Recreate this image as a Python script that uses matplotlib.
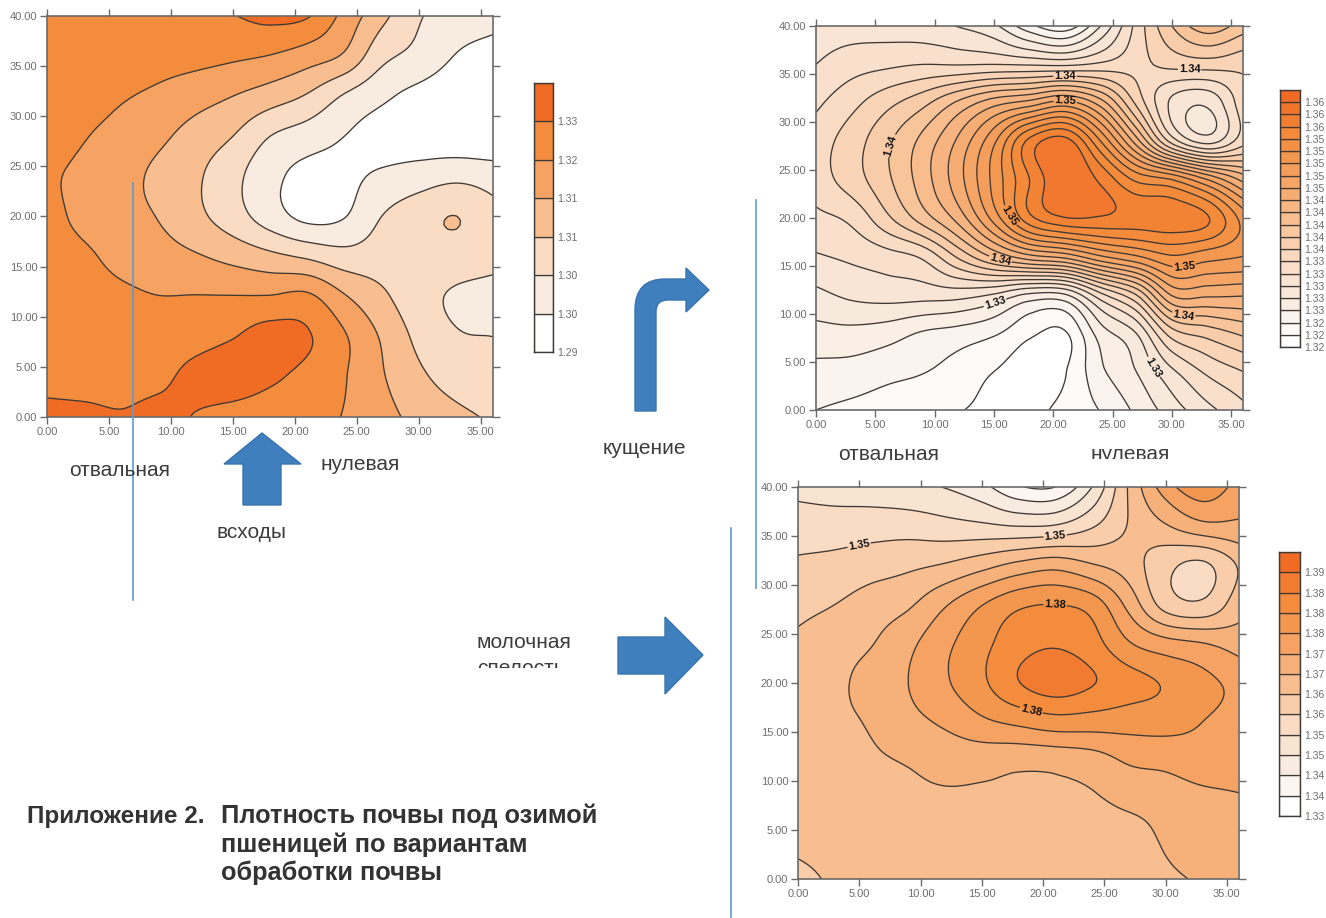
import numpy as np
import matplotlib
matplotlib.use('Agg')
import matplotlib.pyplot as plt
from matplotlib.colors import LinearSegmentedColormap
from matplotlib.patches import Polygon, PathPatch, Rectangle
from matplotlib.path import Path

plt.rcParams['font.family'] = ['Liberation Sans', 'DejaVu Sans']

W, H = 1326, 918

X_NODES = [0, 3, 6, 9, 12, 15, 18, 21, 24, 27, 30, 33, 36]
Y_NODES = [0, 4, 8, 12, 16, 20, 24, 28, 32, 36, 40]
X_TICKS = [0, 5, 10, 15, 20, 25, 30, 35]
Y_TICKS = [0, 5, 10, 15, 20, 25, 30, 35, 40]

# soil density, rows go from y=0 up to y=40
DENSITY_SPROUTS = [
    [1.326, 1.3258, 1.3253, 1.326, 1.3248, 1.3233, 1.322, 1.321, 1.3198, 1.3168, 1.3135, 1.3113, 1.3093],
    [1.324, 1.3238, 1.3238, 1.3243, 1.326, 1.327, 1.3258, 1.3235, 1.3203, 1.3155, 1.311, 1.308, 1.3065],
    [1.3228, 1.3225, 1.3225, 1.3228, 1.3235, 1.3248, 1.327, 1.3255, 1.3205, 1.3145, 1.3088, 1.3055, 1.305],
    [1.3225, 1.322, 1.321, 1.3201, 1.3202, 1.3202, 1.3203, 1.321, 1.3155, 1.311, 1.307, 1.3043, 1.3033],
    [1.322, 1.3208, 1.3185, 1.317, 1.3155, 1.3135, 1.3113, 1.3093, 1.307, 1.3075, 1.308, 1.3078, 1.3065],
    [1.3215, 1.3188, 1.3165, 1.3148, 1.3113, 1.3073, 1.3025, 1.2988, 1.2998, 1.305, 1.308, 1.31005, 1.3065],
    [1.3208, 1.3188, 1.3165, 1.314, 1.3108, 1.3065, 1.3015, 1.2985, 1.299, 1.3008, 1.3025, 1.3038, 1.3028],
    [1.3225, 1.3203, 1.318, 1.316, 1.313, 1.31, 1.305, 1.3025, 1.30, 1.298, 1.297, 1.2965, 1.296],
    [1.323, 1.3225, 1.3205, 1.319, 1.317, 1.315, 1.3125, 1.3095, 1.3045, 1.301, 1.2985, 1.297, 1.2965],
    [1.323, 1.323, 1.3225, 1.3218, 1.3215, 1.3208, 1.3198, 1.3175, 1.3143, 1.3065, 1.3035, 1.2998, 1.298],
    [1.3225, 1.3225, 1.3225, 1.3225, 1.3235, 1.3248, 1.3265, 1.3255, 1.3185, 1.3115, 1.3055, 1.303, 1.302],
]
DENSITY_TILLERING = [
    [1.324, 1.3235, 1.323, 1.3225, 1.3221, 1.3215, 1.3216, 1.3225, 1.3241, 1.3264, 1.329, 1.3314, 1.3334],
    [1.3254, 1.3252, 1.3246, 1.3241, 1.3232, 1.322, 1.3212, 1.3219, 1.3256, 1.328, 1.3316, 1.3344, 1.336],
    [1.3273, 1.3274, 1.3269, 1.3258, 1.3252, 1.3243, 1.3224, 1.3218, 1.327, 1.33, 1.337, 1.3388, 1.3404],
    [1.3295, 1.3304, 1.3308, 1.3308, 1.3308, 1.3298, 1.3276, 1.3278, 1.3334, 1.338, 1.3462, 1.3464, 1.3462],
    [1.3318, 1.3324, 1.3332, 1.3344, 1.3384, 1.3424, 1.3454, 1.3468, 1.3498, 1.3518, 1.3538, 1.3528, 1.352],
    [1.3335, 1.3345, 1.3376, 1.341, 1.3448, 1.3508, 1.3574, 1.3599, 1.3598, 1.3592, 1.3592, 1.3582, 1.3532],
    [1.335, 1.337, 1.3396, 1.343, 1.3472, 1.3526, 1.358, 1.3618, 1.3596, 1.3556, 1.354, 1.35, 1.3454],
    [1.335, 1.337, 1.3396, 1.3426, 1.3464, 1.3516, 1.3586, 1.3608, 1.354, 1.345, 1.3352, 1.3312, 1.3352],
    [1.3336, 1.3354, 1.3374, 1.3394, 1.3424, 1.3452, 1.3468, 1.3488, 1.345, 1.3376, 1.3316, 1.3304, 1.3352],
    [1.332, 1.3331, 1.3336, 1.334, 1.3339, 1.334, 1.3338, 1.3336, 1.3344, 1.3354, 1.3366, 1.337, 1.3366],
    [1.331, 1.331, 1.3309, 1.3306, 1.3299, 1.3284, 1.3246, 1.3226, 1.328, 1.3346, 1.34, 1.3432, 1.341],
]
DENSITY_MILK = [
    [1.359, 1.3605, 1.3615, 1.362, 1.362, 1.3623, 1.3625, 1.3628, 1.363, 1.3635, 1.3643, 1.3655, 1.367],
    [1.3608, 1.3613, 1.362, 1.3625, 1.3625, 1.3625, 1.3628, 1.363, 1.3635, 1.3633, 1.3655, 1.3675, 1.3685],
    [1.3615, 1.362, 1.363, 1.364, 1.3643, 1.3643, 1.3645, 1.3645, 1.3645, 1.366, 1.367, 1.3685, 1.3695],
    [1.3623, 1.363, 1.3643, 1.3653, 1.3665, 1.3665, 1.366, 1.3663, 1.3675, 1.3705, 1.3713, 1.3728, 1.3725],
    [1.3628, 1.364, 1.3655, 1.3685, 1.3708, 1.374, 1.376, 1.3778, 1.3775, 1.377, 1.3768, 1.375, 1.3733],
    [1.3625, 1.364, 1.3668, 1.37, 1.3743, 1.379, 1.3848, 1.3875, 1.3853, 1.382, 1.3795, 1.3765, 1.3735],
    [1.361, 1.363, 1.3648, 1.3688, 1.3738, 1.3785, 1.383, 1.3845, 1.382, 1.3755, 1.372, 1.3703, 1.368],
    [1.3585, 1.36, 1.3623, 1.3643, 1.3695, 1.3748, 1.379, 1.38, 1.3778, 1.3685, 1.358, 1.356, 1.3628],
    [1.3558, 1.3565, 1.3578, 1.359, 1.3605, 1.3633, 1.3665, 1.3683, 1.3655, 1.3625, 1.3565, 1.354, 1.3605],
    [1.3525, 1.3525, 1.3528, 1.3528, 1.3518, 1.351, 1.35, 1.3505, 1.3545, 1.3603, 1.3645, 1.3685, 1.369],
    [1.3485, 1.3475, 1.347, 1.346, 1.3448, 1.3415, 1.3355, 1.335, 1.345, 1.3605, 1.3725, 1.3785, 1.373],
]

# contour lines
LEVELS_SPROUTS = [1.30, 1.305, 1.31, 1.315, 1.32, 1.325]
LEVELS_TILLERING = [1.322, 1.324, 1.326, 1.328, 1.33, 1.332, 1.334, 1.336, 1.338, 1.34,
                    1.342, 1.344, 1.346, 1.348, 1.35, 1.352, 1.354, 1.356, 1.358, 1.36]
LEVELS_MILK = [1.335, 1.34, 1.345, 1.35, 1.355, 1.36, 1.365, 1.37, 1.375, 1.38, 1.385, 1.39]

# colour bar labels, bottom up
BAR_SPROUTS = ['1.29', '1.30', '1.30', '1.31', '1.31', '1.32', '1.33']
BAR_TILLERING = ['1.32', '1.32', '1.32', '1.33', '1.33', '1.33', '1.33', '1.33',
                 '1.34', '1.34', '1.34', '1.34', '1.34', '1.35', '1.35', '1.35',
                 '1.35', '1.35', '1.36', '1.36', '1.36']
BAR_MILK = ['1.33', '1.34', '1.34', '1.35', '1.35', '1.36', '1.36',
            '1.37', '1.37', '1.38', '1.38', '1.38', '1.39']

# where the contour labels sit on the plots
LABELS_TILLERING = [(21, 34.7), (31.5, 35), (21, 32.1), (6.5, 27.5), (16, 20),
                    (15.5, 15.5), (31, 15.3), (15, 11.5), (31, 10), (28.5, 4.5)]
LABELS_MILK = [(5, 34), (21, 34.9), (21, 28), (19, 17)]

CMAP = LinearSegmentedColormap.from_list('soil', ['#FFFFFF', '#F8EBE0', '#FADBC3', '#F8BE90',
                                                  '#F5A262', '#F38C3C', '#F06B24'])
LINE_COL = '#3F3A36'
FRAME_COL = '#6A6A6A'
TICK_COL = '#6E6E6E'
ARROW_COL = '#3F7FBE'
RULE_COL = '#5B9BD5'


def px_axes(fig, left, top, right, bottom):
    return fig.add_axes([left / W, 1 - bottom / H, (right - left) / W, (bottom - top) / H])


def smooth_rows(z, factor):
    # Catmull-Rom along the second axis, so the contours are not polygons
    ghost = np.concatenate([2 * z[:, :1] - z[:, 1:2], z, 2 * z[:, -1:] - z[:, -2:-1]], axis=1)
    n = z.shape[1] - 1
    u = np.linspace(0, n, n * factor + 1)
    i = np.minimum(u.astype(int), n - 1)
    t = (u - i)[None, :]
    p0, p1, p2, p3 = ghost[:, i], ghost[:, i + 1], ghost[:, i + 2], ghost[:, i + 3]
    return 0.5 * (2 * p1 + (p2 - p0) * t + (2 * p0 - 5 * p1 + 4 * p2 - p3) * t ** 2
                  + (3 * p1 - p0 - 3 * p2 + p3) * t ** 3)


def draw_map(fig, box, density, levels, labels=None, span=1.0):
    ax = px_axes(fig, *box)
    factor = 10
    z = smooth_rows(np.array(density), factor)
    z = smooth_rows(z.T, factor).T
    x = np.linspace(X_NODES[0], X_NODES[-1], z.shape[1])
    y = np.linspace(Y_NODES[0], Y_NODES[-1], z.shape[0])

    lv = np.array(levels)
    fill = np.concatenate([[z.min() - 1], lv, [z.max() + 1]])
    colors = [CMAP(span * i / len(lv)) for i in range(len(lv) + 1)]
    ax.contourf(x, y, z, levels=fill, colors=colors)
    cs = ax.contour(x, y, z, levels=lv, colors=LINE_COL, linewidths=0.95)
    if labels:
        for t in cs.clabel(lv, manual=labels, fmt='%.2f', fontsize=8, inline_spacing=1):
            t.set_fontweight('bold')
            t.set_color('#111111')

    ax.set_xlim(0, 36)
    ax.set_ylim(0, 40)
    ax.set_xticks(X_TICKS)
    ax.set_xticklabels(['%.2f' % v for v in X_TICKS])
    ax.set_yticks(Y_TICKS)
    ax.set_yticklabels(['%.2f' % v for v in Y_TICKS])
    ax.tick_params(top=True, right=True, direction='out', length=5, width=1, color=FRAME_COL,
                   labelsize=8, labelcolor=TICK_COL, pad=2)
    for s in ax.spines.values():
        s.set_color(FRAME_COL)
        s.set_linewidth(1.2)
    return ax


def draw_bar(fig, box, labels):
    ax = px_axes(fig, *box)
    n = len(labels)
    for i in range(n):
        ax.bar(0.5, 1, bottom=i, width=1, color=CMAP(i / (n - 1)), edgecolor=LINE_COL, linewidth=0.9)
    ax.set_xlim(0, 1)
    ax.set_ylim(0, n)
    ax.set_xticks([])
    ax.yaxis.tick_right()
    ax.set_yticks(range(n))
    ax.set_yticklabels(labels)
    ax.tick_params(axis='y', length=0, labelsize=7.5, labelcolor=TICK_COL, pad=3)
    for s in ax.spines.values():
        s.set_color(LINE_COL)
        s.set_linewidth(1)


fig = plt.figure(figsize=(W / 100, H / 100), dpi=100)
fig.patch.set_facecolor('white')

draw_map(fig, (47, 16, 493, 417), DENSITY_SPROUTS, LEVELS_SPROUTS)
draw_bar(fig, (534, 83, 553, 352), BAR_SPROUTS)
draw_map(fig, (816, 26, 1243, 410), DENSITY_TILLERING, LEVELS_TILLERING, LABELS_TILLERING, span=0.93)
draw_bar(fig, (1280, 90, 1300, 347), BAR_TILLERING)
draw_map(fig, (798, 487, 1239, 879), DENSITY_MILK, LEVELS_MILK, LABELS_MILK)
draw_bar(fig, (1279, 552, 1300, 816), BAR_MILK)

# overlay in pixel coordinates for the hand drawn notes
note = fig.add_axes([0, 0, 1, 1], facecolor='none')
note.set_xlim(0, W)
note.set_ylim(H, 0)
note.axis('off')

note.plot([133, 133], [183, 600], color=RULE_COL, lw=1.2)
note.plot([756, 756], [200, 588], color=RULE_COL, lw=1.2)
note.plot([731, 731], [528, 917], color=RULE_COL, lw=1.2)

note.add_patch(Polygon([(262, 433), (301, 464), (281, 464), (281, 505), (243, 505), (243, 464), (224, 464)],
                       facecolor=ARROW_COL, edgecolor='#3A74AD', lw=1))
note.add_patch(Polygon([(703, 655), (665, 617), (665, 637), (618, 637), (618, 674), (665, 674), (665, 694)],
                       facecolor=ARROW_COL, edgecolor='#3A74AD', lw=1))
bent = Path([(635, 411), (635, 310), (635, 279), (665, 279), (686, 279), (686, 268), (709, 290), (686, 312),
             (686, 300), (668, 300), (656, 300), (656, 312), (656, 411), (635, 411)],
            [Path.MOVETO, Path.LINETO, Path.CURVE3, Path.CURVE3, Path.LINETO, Path.LINETO, Path.LINETO, Path.LINETO,
             Path.LINETO, Path.LINETO, Path.CURVE3, Path.CURVE3, Path.LINETO, Path.CLOSEPOLY])
note.add_patch(PathPatch(bent, facecolor=ARROW_COL, edgecolor='#3A74AD', lw=1))

TXT_COL = '#3C3C3C'
for tx, ty, s in [(69, 470, 'отвальная'), (320, 464, 'нулевая'), (217, 533, 'всходы'),
                  (603, 449, 'кущение'), (838, 454, 'отвальная'), (1090, 454, 'нулевая'),
                  (477, 642, 'молочная'), (477, 668, 'спелость')]:
    note.text(tx, ty, s, fontsize=15, color=TXT_COL, va='center', ha='left')
# cut off captions, as in the scan
note.add_patch(Rectangle((470, 668), 120, 14, facecolor='white', edgecolor='none', zorder=5))
note.add_patch(Rectangle((1080, 459), 100, 12, facecolor='white', edgecolor='none', zorder=5))

note.text(27, 816, 'Приложение 2.', fontsize=17.5, fontweight='bold', color='#333333', va='center')
for ty, s in [(816, 'Плотность почвы под озимой'), (845, 'пшеницей по вариантам'), (873, 'обработки почвы')]:
    note.text(221, ty, s, fontsize=18.3, fontweight='bold', color='#333333', va='center')

fig.savefig('out.png', dpi=100, facecolor='white')
